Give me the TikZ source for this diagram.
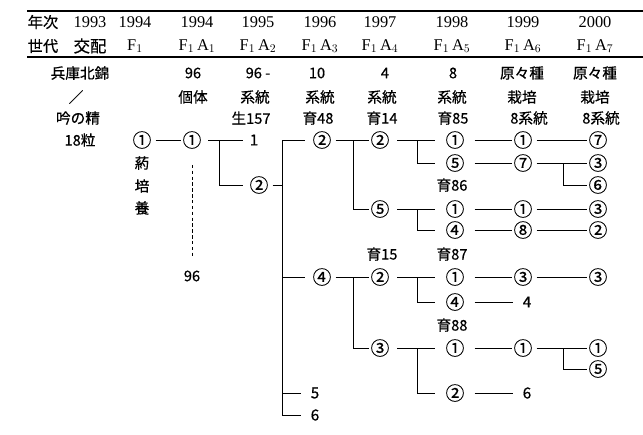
\documentclass[tikz,border=0pt]{standalone}
\usepackage{fontspec}
\setmainfont{Liberation Serif}
\newfontfamily\jp[FakeBold=0.6]{Noto Sans CJK JP}
\usetikzlibrary{positioning}

\tikzset{
  hdr/.style={inner sep=0.5pt, font=\fontsize{14}{16}\selectfont},
  jhdr/.style={inner sep=0.5pt, font=\jp\fontsize{13}{15}\selectfont},
  lbl/.style={inner sep=0.5pt, font=\jp\fontsize{12.5}{14}\selectfont},
  cn/.style={inner sep=0.5pt, font=\jp\fontsize{16}{18}\selectfont},
  num/.style={inner sep=0.5pt, font=\jp\fontsize{13}{15}\selectfont},
  link/.style={line width=0.8pt, shorten <=3pt, shorten >=1pt},
  far/.style={shorten <=6pt, shorten >=8pt},
  br/.style={line width=0.8pt, shorten >=1pt},
}

\begin{document}
\begin{tikzpicture}[x=0.03cm, y=-0.03cm]
  \useasboundingbox (0,0) rectangle (643,434);

  % header rules
  \draw[line width=1.4pt] (27,11) -- (643,11);
  \draw[line width=0.9pt] (27,57) -- (643,57);

  % header
  \node[jhdr] (yr0) at (43,22) {年次};
  \node[jhdr] (gen0) at (43,46) {世代};
  \foreach \x/\yr/\gen [count=\i] in {90/1993/{\jp 交配}, 135/1994/F$_1$,
      197/1994/F$_1$\,A$_1$, 258/1995/F$_1$\,A$_2$, 320/1996/F$_1$\,A$_3$,
      380/1997/F$_1$\,A$_4$, 452/1998/F$_1$\,A$_5$, 523/1999/F$_1$\,A$_6$,
      595/2000/F$_1$\,A$_7$}
  {
    \node[hdr] (yr\i) at (\x,22) {\yr};
    \node[hdr] (gen\i) at (\x,46) {\gen};
  }

  % rows under the header
  \foreach \x/\t [count=\i] in {80/兵庫北錦, 193/96, 258/96 -, 317/10, 385/4,
      453/8, 522/原々種, 595/原々種}
    \node[lbl] (ra\i) at (\x,73) {\t};
  \foreach \x/\t [count=\i] in {76/／, 193/個体, 255/系統, 320/系統, 382/系統,
      452/系統, 522/栽培, 595/栽培}
    \node[lbl] (rb\i) at (\x,97) {\t};
  \foreach \x/\t [count=\i] in {78/吟の精, 251/生157, 318/育48, 382/育14,
      453/育85, 529/8系統, 601/8系統}
    \node[lbl] (rc\i) at (\x,118) {\t};

  % cross and anther culture
  \node[lbl] (seed) at (80,140) {18粒};
  \node[cn] (t1) at (142,140) {①};
  \node[cn] (t2) at (192,140) {①};
  \node[lbl] (ac1) at (142,163) {葯};
  \node[lbl] (ac2) at (142,186) {培};
  \node[lbl] (ac3) at (142,208) {養};
  \node[lbl] (c96) at (192,276) {96};
  \draw[link] (t1) -- (t2);
  \draw[line width=0.8pt, densely dashed, shorten <=13pt, shorten >=12pt] (t2) -- (c96);

  % 1995
  \node[num] (n1) at (254,140) {1};
  \node[cn] (n2) at (259,185) {②};
  \coordinate (b0) at (219,140);
  \draw[link, shorten <=5pt, shorten >=5pt] (t2) -- (n1);
  \draw[br, shorten >=5pt] (b0) |- (n2);

  % 1996
  \node[cn] (m1) at (322,140) {②};
  \node[cn] (m2) at (322,277) {④};
  \node[num] (m3) at (315,393) {5};
  \node[num] (m4) at (315,415) {6};
  \coordinate (b1) at (282,185);
  \draw[link, shorten >=0pt] (n2) -- (b1);
  \foreach \m in {m1,m2}
    \draw[br, shorten >=6pt] (b1) |- (\m);
  \foreach \m in {m3,m4}
    \draw[br, shorten >=8pt] (b1) |- (\m);

  % 1997
  \node[cn] (p1) at (380,140) {②};
  \node[cn] (p2) at (380,209) {⑤};
  \node[cn] (p3) at (380,277) {②};
  \node[cn] (p4) at (380,348) {③};
  \coordinate (bm1) at (353,140);
  \coordinate (bm2) at (353,277);
  \draw[link] (m1) -- (p1);
  \draw[br] (bm1) |- (p2);
  \draw[link] (m2) -- (p3);
  \draw[br] (bm2) |- (p4);
  \node[lbl] (sel15) at (382,254) {育15};

  % 1998
  \node[cn] (q1) at (455,140) {①};
  \node[cn] (q2) at (455,163) {⑤};
  \node[cn] (q3) at (455,209) {①};
  \node[cn] (q4) at (455,230) {④};
  \node[cn] (q5) at (455,277) {①};
  \node[cn] (q6) at (455,302) {④};
  \node[cn] (q7) at (455,348) {①};
  \node[cn] (q8) at (455,393) {②};
  \foreach \p/\qa/\qb/\bx in {p1/q1/q2/140, p2/q3/q4/209, p3/q5/q6/277, p4/q7/q8/348}
  {
    \draw[link, far] (\p) -- (\qa);
    \draw[br, shorten >=8pt] (417,\bx) |- (\qb);
  }
  \node[lbl] (sel86) at (452,185) {育86};
  \node[lbl] (sel87) at (452,254) {育87};
  \node[lbl] (sel88) at (452,325) {育88};

  % 1999
  \node[cn] (s1) at (523,140) {①};
  \node[cn] (s2) at (523,163) {⑦};
  \node[cn] (s3) at (523,209) {①};
  \node[cn] (s4) at (523,230) {⑧};
  \node[cn] (s5) at (523,277) {③};
  \node[num] (s6) at (527,302) {4};
  \node[cn] (s7) at (523,348) {①};
  \node[num] (s8) at (527,393) {6};
  \foreach \q/\s in {q1/s1, q2/s2, q3/s3, q4/s4, q5/s5, q7/s7}
    \draw[link, shorten <=8pt] (\q) -- (\s);
  \foreach \q/\s in {q6/s6, q8/s8}
    \draw[link, shorten <=8pt, shorten >=8pt] (\q) -- (\s);

  % 2000
  \node[cn] (u1) at (598,140) {⑦};
  \node[cn] (u2) at (598,163) {③};
  \node[cn] (u3) at (598,185) {⑥};
  \node[cn] (u4) at (598,209) {③};
  \node[cn] (u5) at (598,230) {②};
  \node[cn] (u6) at (598,277) {③};
  \node[cn] (u7) at (598,348) {①};
  \node[cn] (u8) at (598,369) {⑤};
  \foreach \s/\u in {s1/u1, s2/u2, s3/u4, s4/u5, s5/u6, s7/u7}
    \draw[link] (\s) -- (\u);
  \coordinate (bs2) at (563,163);
  \coordinate (bs7) at (563,348);
  \draw[br] (bs2) |- (u3);
  \draw[br] (bs7) |- (u8);
\end{tikzpicture}
\end{document}
